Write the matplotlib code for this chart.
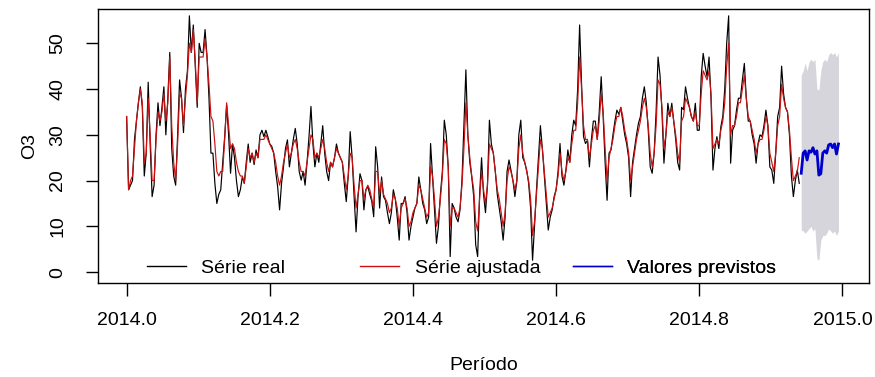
import matplotlib
matplotlib.use("Agg")
import matplotlib.pyplot as plt
from matplotlib.lines import Line2D
import numpy as np

plt.rcParams["font.family"] = ["Liberation Sans", "DejaVu Sans"]

START_YEAR = 2014.0
DAYS_PER_YEAR = 365.0

# observed daily O3 (day 0 = 2014-01-01)
serie_real = [
    34, 18, 19, 20, 29, 33, 37, 40.5, 36, 21, 26, 41.5, 28, 16.5, 19, 30, 37, 32, 36, 40.5,
    30, 38, 48, 27, 21, 19, 30, 42, 38, 30.5, 40, 44, 56, 48, 54, 45, 36, 50, 48, 48,
    53, 47, 38, 26, 26, 19.4, 15, 17, 18, 24, 29.6, 36.5, 30, 21.6, 28, 25, 20, 16.5, 18, 20.8,
    19.4, 24, 28, 24, 26, 23.5, 26.7, 25, 30, 31, 29.6, 31, 29.6, 28, 27.5, 26, 22, 18.7, 13.6, 19.4,
    23, 27, 28.9, 23, 26, 29, 31.4, 28, 22, 20.1, 22, 19, 24, 29.6, 36.2, 28, 23, 26, 24, 28,
    32, 26, 22, 20, 24, 23, 25, 28, 26, 25, 24, 19.4, 15.4, 21, 30.7, 25, 16.5, 8.8, 16.5, 21.5,
    20, 13.6, 18, 18.7, 17, 15.5, 12.1, 27.4, 23, 14, 20.8, 16.5, 15.7, 13, 10.6, 13, 18, 16, 12, 7,
    15, 15, 16.5, 13, 7, 10, 12, 14, 15, 20.8, 18, 15, 13.6, 10.6, 12, 28.1, 21, 13.6, 6.3, 10,
    17, 22, 33.2, 30, 23, 3.4, 15, 14, 12, 11, 13.6, 20, 32, 44.2, 30, 24, 20.8, 16.5, 6, 3.4,
    17, 25, 17, 13, 19, 33.2, 28, 26, 22, 17, 14, 11, 7, 12, 22, 24.5, 22.3, 20, 16.5, 20,
    30, 33.2, 25, 24, 22.3, 19.4, 14, 2.6, 10, 18, 25, 32, 27, 21, 15, 9.2, 12, 13.6, 16.5, 18,
    22, 28.1, 21, 19, 22.3, 26.7, 24, 30, 33.2, 32, 40, 54, 41, 29.6, 28.1, 28.8, 23, 29, 33, 33,
    29, 35, 42.7, 34, 24, 15.7, 26, 26.7, 30, 33, 35.4, 34.5, 36, 33, 30, 28, 25, 16.5, 24, 27,
    30, 32.5, 34, 38, 40.5, 37, 31, 23, 21.6, 26, 35, 47, 43, 35, 23.8, 30, 36.9, 34, 36.9, 33,
    29, 24, 22.3, 36, 35.5, 40.5, 38, 36, 34, 33, 36.9, 31, 31, 42.7, 47.8, 45, 42.7, 47, 38, 22.3,
    27, 29.6, 27, 31.7, 34, 40, 50, 56, 23.8, 31, 32, 35.4, 38, 38, 42, 45.6, 38, 33, 33, 30,
    28, 23.8, 28.1, 30, 29.6, 32, 35.4, 32, 23, 22.3, 19.4, 26, 34, 36, 45, 39, 36, 35, 30, 21,
    16.5, 20, 22.3, 19.4,
]

# fitted values
serie_ajustada = [
    34, 18, 20, 21, 27, 33, 37, 40, 37, 24, 26, 38, 30, 20, 20, 29, 35, 33, 35, 39,
    33, 37, 47, 32, 24, 20, 28, 39, 38, 32, 38, 43, 50, 48, 53, 46, 37, 47, 47, 47,
    51, 47, 41, 34, 33, 28, 22, 21, 22, 22, 29, 37, 32, 27, 28, 27, 24, 22, 21, 21,
    19.4, 23, 27, 25, 26, 24, 26, 25, 29, 29, 29, 30, 29, 28, 27, 26, 24, 21, 19, 21,
    24, 26, 28, 25, 26, 28, 29, 27, 24, 22, 22, 21, 24, 27, 30, 29, 25, 26, 25, 27,
    29, 27, 24, 22, 24, 23, 25, 27, 26, 25, 24, 21, 18, 21, 26, 25, 19, 14, 17, 20,
    20, 16, 18, 19, 18, 16, 14, 22, 22, 17, 20, 17, 16, 15, 13, 14, 17, 16, 14, 10,
    14, 15, 16, 14, 10, 11, 13, 14, 15, 19, 18, 16, 14, 12, 13, 23, 21, 16, 10, 12,
    16, 21, 29, 28, 23, 10, 14, 14, 13, 12, 14, 19, 27, 37, 30, 25, 21, 18, 11, 9,
    16, 22, 18, 15, 19, 28, 27, 26, 22, 18, 16, 13, 10, 13, 20, 23, 22, 20, 18, 20,
    27, 30, 26, 24, 22, 20, 16, 8, 11, 17, 23, 29, 27, 22, 17, 12, 13, 14, 16, 18,
    21, 26, 22, 20, 22, 25, 24, 28, 31, 31, 37, 47, 40, 32, 29, 29, 25, 28, 31, 32,
    29, 33, 39, 35, 27, 20, 25, 27, 29, 32, 34, 34, 36, 34, 31, 29, 26, 20, 23, 26,
    29, 31, 33, 36, 38, 36, 32, 26, 23, 26, 32, 42, 41, 36, 27, 30, 35, 34, 36, 33,
    30, 26, 24, 33, 34, 38, 37, 36, 34, 33, 35, 32, 32, 39, 44, 43, 42, 44, 39, 27,
    28, 29, 28, 31, 33, 37, 45, 50, 30, 32, 32, 34, 37, 37, 40, 43, 38, 34, 33, 31,
    29, 26, 28, 29, 29, 31, 34, 32, 26, 24, 22, 26, 32, 34, 41, 38, 36, 35, 31, 25,
    20, 21, 22, 25,
]

# forecast (days 344-363) and prediction interval
valores_previstos = [21.6, 26, 26.5, 24.5, 26.5, 26.2, 27.2, 25.8, 26.5, 21.2,
                     21.5, 26, 26.5, 26, 27.8, 28, 27.2, 28, 25.8, 28]
previsto_inf = [9.2, 9, 8.5, 9, 9.5, 10, 9, 9.5, 3, 2.6,
                7, 8, 8, 8.5, 9.5, 9, 8.5, 9, 8, 9]
previsto_sup = [43, 44, 45.7, 44, 46, 46.5, 46, 46.5, 40, 39.8,
                44, 46, 46.5, 46, 47.5, 48, 47.5, 48, 47, 48]

x_ticks = [2014.0, 2014.2, 2014.4, 2014.6, 2014.8, 2015.0]
y_ticks = [0, 10, 20, 30, 40, 50]


def main() -> None:
    n = len(serie_real)
    t_obs = START_YEAR + np.arange(n) / DAYS_PER_YEAR
    t_fc = START_YEAR + (n + np.arange(len(valores_previstos))) / DAYS_PER_YEAR

    fig = plt.figure(figsize=(8.75, 3.77), dpi=100)
    ax = fig.add_axes([0.112, 0.249, 0.881, 0.726])

    ax.fill_between(t_fc, previsto_inf, previsto_sup, color="#d5d5db", linewidth=0)
    ax.plot(t_obs, serie_real, color="black", linewidth=0.85)
    ax.plot(t_obs, serie_ajustada, color="#cc1111", linewidth=0.85)
    ax.plot(t_fc, valores_previstos, color="#0000cc", linewidth=2.0)

    ax.set_xlim(2013.96, 2015.037)
    ax.set_ylim(-2.4, 57.4)
    ax.set_xticks(x_ticks)
    ax.set_xticklabels([f"{v:.1f}" for v in x_ticks])
    ax.set_yticks(y_ticks)
    ax.set_yticklabels([str(v) for v in y_ticks], rotation=90, va="center")
    ax.tick_params(axis="x", length=9, width=1, pad=12, labelsize=14)
    ax.tick_params(axis="y", length=9, width=1, pad=14, labelsize=14)
    for s in ax.spines.values():
        s.set_linewidth(1)

    ax.set_xlabel("Período", fontsize=14, labelpad=20)
    ax.set_ylabel("O3", fontsize=14, labelpad=8)

    entries = [
        ("Série real", "black", 0.0636),
        ("Série ajustada", "#cc1111", 0.340),
        ("Valores previstos", "#0000cc", 0.616),
    ]
    for label, color, xpos in entries:
        leg = ax.legend(
            [Line2D([], [], color=color, linewidth=1)], [label],
            loc="center left", bbox_to_anchor=(xpos, 0.055),
            frameon=False, fontsize=14, handlelength=2.0,
            handletextpad=0.8, borderpad=0, borderaxespad=0,
        )
        ax.add_artist(leg)

    fig.savefig("out.png", dpi=100)


if __name__ == "__main__":
    main()
